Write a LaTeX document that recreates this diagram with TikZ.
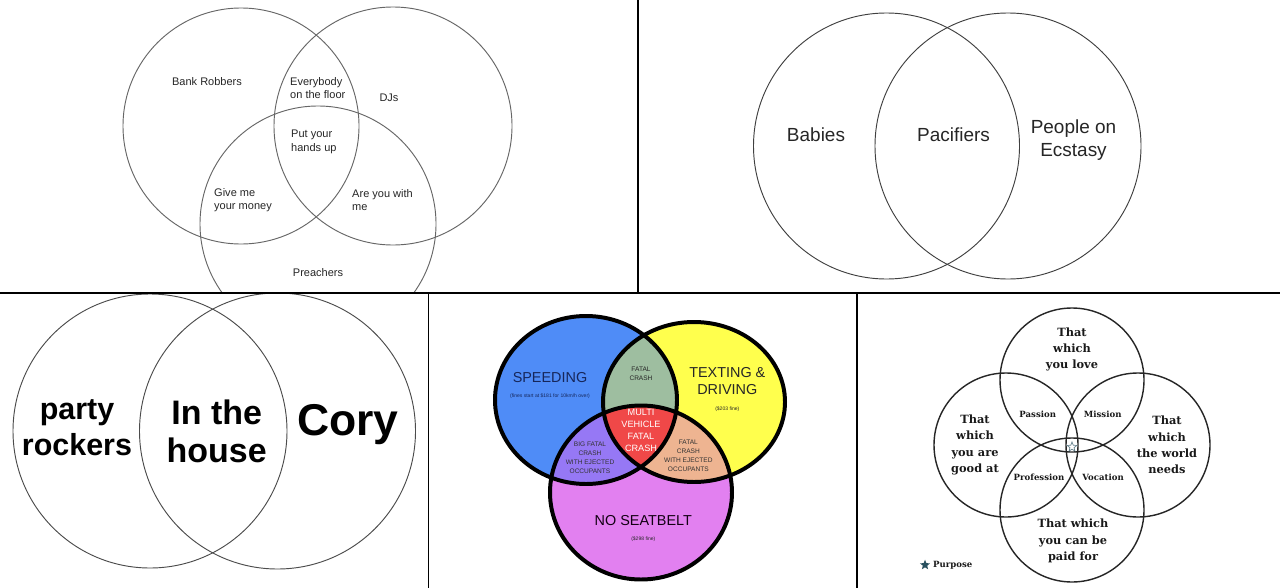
\documentclass[tikz,border=0pt]{standalone}
\usepackage{fontspec}
\setmainfont{Liberation Sans}
\newfontfamily\slabfont{DejaVu Serif}
\usetikzlibrary{shapes.geometric}

\definecolor{speedblue}{RGB}{79,140,247}
\definecolor{textyellow}{RGB}{255,255,77}
\definecolor{beltpink}{RGB}{226,128,240}
\definecolor{crashgreen}{RGB}{158,190,160}
\definecolor{multired}{RGB}{240,72,72}
\definecolor{ejectlilac}{RGB}{150,120,245}
\definecolor{ejectpeach}{RGB}{238,180,145}
\definecolor{speednavy}{RGB}{22,38,90}
\definecolor{purposeteal}{RGB}{40,80,95}

\tikzset{
  panelline/.style={draw=black, line width=1.1pt},
  grayvenn/.style={draw=black!60, line width=0.8pt},
  boldvenn/.style={draw=black, line width=3.4pt},
  blackvenn/.style={draw=black!85, line width=1.2pt},
  plainlbl/.style={inner sep=0pt, align=center, text=black!85},
  songlbl/.style={plainlbl, font=\fontsize{9.4}{11.4}\selectfont},
  bigsonglbl/.style={plainlbl, font=\fontsize{16.2}{19.7}\selectfont},
  rockerlbl/.style={plainlbl, text=black, font=\bfseries\fontsize{26}{31}\selectfont},
  crashlbl/.style={plainlbl, font=\fontsize{5.6}{7.5}\selectfont},
  headlbl/.style={plainlbl, font=\fontsize{12.3}{14.5}\selectfont},
  finelbl/.style={plainlbl, font=\fontsize{4.3}{5}\selectfont},
  slablbl/.style={plainlbl, text=black!90, font=\slabfont\bfseries\fontsize{9.7}{13.9}\selectfont},
  smallslab/.style={plainlbl, text=black!90, font=\slabfont\bfseries\fontsize{7.3}{8}\selectfont}
}

\begin{document}
\begin{tikzpicture}[x=0.03cm, y=-0.03cm]
  \useasboundingbox (0,0) rectangle (1280,588);
  \fill[white] (0,0) rectangle (1280,588);

  % Bank Robbers / DJs / Preachers
  \begin{scope}
    \clip (0,0) rectangle (637,292.5);
    \draw[grayvenn] (241,126) circle (118);
    \draw[grayvenn] (393,126) circle (119);
    \draw[grayvenn] (318,224) circle (118);
    \node[songlbl] (robbers) at (207,82) {Bank Robbers};
    \node[songlbl, anchor=west, align=left] (floor) at (290,88) {Everybody\\on the floor};
    \node[songlbl] (djs) at (389,98) {DJs};
    \node[songlbl, anchor=west, align=left] (hands) at (291,142) {Put your\\hands up};
    \node[songlbl, anchor=west, align=left] (money) at (214,200) {Give me\\your money};
    \node[songlbl, anchor=west, align=left] (withme) at (352,200) {Are you with\\me};
    \node[songlbl] (preachers) at (318,273) {Preachers};
  \end{scope}

  % Babies / Pacifiers
  \begin{scope}
    \draw[grayvenn, draw=black!75] (886.5,146) circle (133);
    \draw[grayvenn, draw=black!75] (1008,146) circle (133);
    \node[bigsonglbl] (babies) at (816,135) {Babies};
    \node[bigsonglbl] (pacifiers) at (953.5,135) {Pacifiers};
    \node[bigsonglbl] (ecstasy) at (1073.5,140) {People on\\Ecstasy};
  \end{scope}

  % Party rockers
  \begin{scope}
    \clip (0,293.5) rectangle (427.5,588);
    \draw[grayvenn, draw=black!70] (150,431) circle (137);
    \draw[grayvenn, draw=black!70] (277.5,431) circle (138);
    \node[rockerlbl] (party) at (77,428) {party\\rockers};
    \node[rockerlbl, font=\bfseries\fontsize{29}{32.4}\selectfont] (house) at (216.7,431) {In the\\house};
    \node[rockerlbl, font=\bfseries\fontsize{38}{40}\selectfont] (cory) at (348,425) {Cory};
  \end{scope}

  % Speeding / Texting / No seatbelt
  \begin{scope}
    \coordinate (speed) at (586,400);
    \coordinate (texting) at (694,402);
    \coordinate (belt) at (641,492.5);
    \fill[speedblue] (speed) ellipse [x radius=91, y radius=84];
    \fill[textyellow] (texting) ellipse [x radius=91, y radius=80];
    \fill[beltpink] (belt) ellipse [x radius=91, y radius=87];
    \begin{scope}
      \clip (speed) ellipse [x radius=91, y radius=84];
      \fill[crashgreen] (texting) ellipse [x radius=91, y radius=80];
      \fill[ejectlilac] (belt) ellipse [x radius=91, y radius=87];
    \end{scope}
    \begin{scope}
      \clip (texting) ellipse [x radius=91, y radius=80];
      \fill[ejectpeach] (belt) ellipse [x radius=91, y radius=87];
      \clip (speed) ellipse [x radius=91, y radius=84];
      \fill[multired] (belt) ellipse [x radius=91, y radius=87];
    \end{scope}
    \draw[boldvenn] (speed) ellipse [x radius=91, y radius=84];
    \draw[boldvenn] (texting) ellipse [x radius=91, y radius=80];
    \draw[boldvenn] (belt) ellipse [x radius=91, y radius=87];

    \node[headlbl, text=speednavy] (speeding) at (550,377.7) {SPEEDING};
    \node[finelbl, text=speednavy] (speedfine) at (550,396) {(fines start at \$181 for 10km/h over)};
    \node[crashlbl] (fatal) at (641,374) {FATAL\\CRASH};
    \node[headlbl, text=black!85] (textdrive) at (727.3,380.7) {TEXTING \&\\DRIVING};
    \node[finelbl] (textfine) at (727.3,408.7) {(\$203 fine)};
    \node[plainlbl, text=white, font=\fontsize{7.8}{10.4}\selectfont] (multi) at (641,430.4) {MULTI\\VEHICLE\\FATAL\\CRASH};
    \node[crashlbl, text=black!80] (bigcrash) at (590,457.6) {BIG FATAL\\CRASH\\WITH EJECTED\\OCCUPANTS};
    \node[crashlbl, text=black!80] (ejected) at (688.3,455.8) {FATAL\\CRASH\\WITH EJECTED\\OCCUPANTS};
    \node[headlbl, text=black!85!violet] (seatbelt) at (643.3,521) {NO SEATBELT};
    \node[finelbl] (beltfine) at (643.3,538.7) {(\$298 fine)};
  \end{scope}

  % Purpose
  \begin{scope}
    \draw[blackvenn] (1072,380) circle (72);
    \draw[blackvenn] (1006,445) circle (72);
    \draw[blackvenn] (1138,445) circle (72);
    \draw[blackvenn] (1072,510) circle (72);
    \node[slablbl] (love) at (1072,349.5) {That\\which\\you love};
    \node[slablbl] (good) at (975,445) {That\\which\\you are\\good at};
    \node[slablbl] (needs) at (1167,445) {That\\which\\the world\\needs};
    \node[slablbl] (paid) at (1073,541) {That which\\you can be\\paid for};
    \node[smallslab] (passion) at (1037.7,414.3) {Passion};
    \node[smallslab] (mission) at (1102.7,414.3) {Mission};
    \node[smallslab] (profession) at (1039,477.7) {Profession};
    \node[smallslab] (vocation) at (1103,477.7) {Vocation};
    \node[star, star points=5, star point ratio=2.3, draw=purposeteal!70, line width=0.6pt,
          minimum size=8.5pt, inner sep=0pt] (mark) at (1072,447) {};
    \node[star, star points=5, star point ratio=2.3, fill=purposeteal,
          minimum size=9pt, inner sep=0pt] (legendstar) at (925,565) {};
    \node[smallslab, anchor=west] (purpose) at (933,565) {Purpose};
  \end{scope}

  % Separadores
  \draw[panelline] (0,293) -- (1280,293);
  \draw[panelline] (638,0) -- (638,293);
  \draw[panelline] (428.5,293) -- (428.5,588);
  \draw[panelline] (857,293) -- (857,588);
\end{tikzpicture}
\end{document}
